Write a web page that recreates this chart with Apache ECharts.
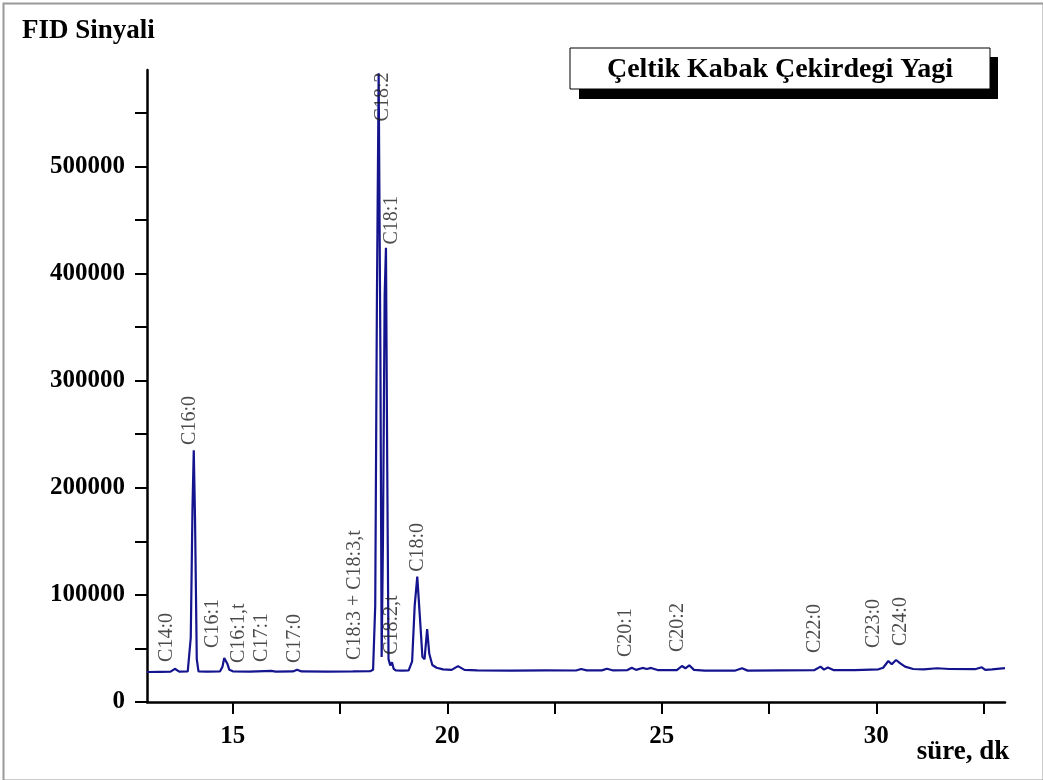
<!DOCTYPE html>
<html>
<head>
<meta charset="utf-8">
<script src="https://cdn.jsdelivr.net/npm/echarts@6/dist/echarts.min.js"></script>
<style>
html,body{margin:0;padding:0;background:#fff;}
#chart{width:1043px;height:780px;}
</style>
</head>
<body>
<div id="chart"></div>
<script>
// retention time (min) and FID signal of the chromatogram trace
const time = [13.00, 13.30, 13.55, 13.65, 13.75, 13.95, 14.02, 14.06, 14.09, 14.12, 14.16, 14.20, 14.40, 14.70, 14.76, 14.80, 14.83, 14.87, 14.92, 15.00, 15.40, 15.90, 16.00, 16.40, 16.50, 16.60, 17.20, 17.80, 18.20, 18.27, 18.32, 18.36, 18.40, 18.44, 18.47, 18.50, 18.54, 18.57, 18.60, 18.63, 18.67, 18.71, 18.75, 18.80, 18.95, 19.10, 19.18, 19.24, 19.30, 19.36, 19.42, 19.47, 19.53, 19.58, 19.65, 19.75, 19.90, 20.10, 20.25, 20.40, 20.70, 21.50, 22.30, 23.00, 23.12, 23.25, 23.60, 23.72, 23.85, 24.20, 24.30, 24.40, 24.55, 24.65, 24.75, 24.90, 25.35, 25.47, 25.55, 25.64, 25.75, 26.00, 26.70, 26.87, 27.00, 27.80, 28.55, 28.70, 28.78, 28.87, 29.00, 29.50, 30.05, 30.16, 30.28, 30.36, 30.46, 30.56, 30.67, 30.86, 31.10, 31.42, 31.70, 32.30, 32.46, 32.54, 32.70, 33.00];
const signal = [28000, 28200, 28300, 31000, 28400, 28500, 60000, 180000, 235000, 170000, 40000, 28500, 28300, 28500, 33000, 41000, 42500, 36000, 30000, 28600, 28400, 29000, 28400, 28500, 30200, 28500, 28400, 28500, 28700, 30000, 90000, 380000, 587000, 330000, 42000, 150000, 380000, 424000, 220000, 40000, 34000, 37000, 31000, 29500, 29200, 29500, 38000, 90000, 117000, 80000, 42000, 40000, 68000, 45000, 34500, 32000, 30500, 30000, 33500, 30000, 29500, 29300, 29500, 29400, 30800, 29500, 29500, 31000, 29600, 29800, 32000, 30000, 31800, 30800, 31800, 29800, 29800, 33600, 31500, 34300, 30000, 29200, 29200, 31500, 29300, 29500, 29700, 33000, 30200, 32200, 29800, 29800, 30500, 32000, 38300, 35200, 39200, 36000, 33000, 30800, 30500, 31500, 30800, 30600, 32400, 30000, 30500, 31700];

// peak annotations: name, time of label, signal level at label base
const peakNames = ['C14:0', 'C16:0', 'C16:1', 'C16:1,t', 'C17:1', 'C17:0', 'C18:3 + C18:3,t', 'C18:2', 'C18:1', 'C18:2,t', 'C18:0', 'C20:1', 'C20:2', 'C22:0', 'C23:0', 'C24:0'];
const peakTime = [13.47, 14.0, 14.54, 15.15, 15.68, 16.45, 17.85, 18.5, 18.71, 18.71, 19.30, 24.15, 25.38, 28.57, 29.93, 30.56];
const peakBase = [37400, 240000, 50500, 36400, 37400, 36400, 39300, 542000, 427000, 44000, 121500, 42000, 46700, 45800, 50500, 52300];

const xTicks = [15, 17.5, 20, 22.5, 25, 27.5, 30, 32.5];
const xLabels = [15, 20, 25, 30];
const yTicks = [0, 50000, 100000, 150000, 200000, 250000, 300000, 350000, 400000, 450000, 500000, 550000];
const yLabels = [0, 100000, 200000, 300000, 400000, 500000];

const chart = echarts.init(document.getElementById('chart'), null, {renderer: 'canvas'});
const lineData = time.map((t, i) => [t, signal[i]]);
const labelData = peakNames.map((n, i) => ({name: n, value: [peakTime[i], peakBase[i]]}));

chart.setOption({
  backgroundColor: '#ffffff',
  animation: false,
  grid: {left: 147, right: 38, top: 70, bottom: 78, containLabel: false},
  xAxis: {
    type: 'value', min: 13, max: 33,
    axisLine: {show: true, onZero: false, lineStyle: {color: '#000', width: 2.5}},
    axisTick: {show: true, length: 12, lineStyle: {color: '#000', width: 2}, customValues: xTicks},
    axisLabel: {show: true, customValues: xLabels, margin: 22, color: '#000',
      fontFamily: 'Liberation Serif', fontWeight: 'bold', fontSize: 25},
    splitLine: {show: false}
  },
  yAxis: {
    type: 'value', min: 0, max: 590000,
    axisLine: {show: true, onZero: false, lineStyle: {color: '#000', width: 2.5}},
    axisTick: {show: true, length: 12, lineStyle: {color: '#000', width: 2}, customValues: yTicks},
    axisLabel: {show: true, customValues: yLabels, margin: 22, color: '#000',
      fontFamily: 'Liberation Serif', fontWeight: 'bold', fontSize: 25,
      formatter: v => String(v)},
    splitLine: {show: false}
  },
  series: [
    {
      type: 'line', data: lineData, showSymbol: false, smooth: false,
      lineStyle: {color: '#14148f', width: 2.2}, silent: true, z: 3
    },
    {
      type: 'scatter', data: labelData, symbolSize: 1, silent: true,
      itemStyle: {color: 'rgba(0,0,0,0)'}, z: 5,
      label: {show: true, formatter: '{b}', position: 'inside', rotate: 90,
        align: 'left', verticalAlign: 'middle', color: '#1e1e1e',
        fontFamily: 'Liberation Serif', fontSize: 20}
    }
  ],
  graphic: [
    {type: 'rect', left: 1, top: 1, shape: {x: 0, y: 0, width: 1040, height: 777},
      style: {fill: 'none', stroke: '#999999', lineWidth: 2}, silent: true, z: 0},
    {type: 'text', left: 22, top: 18, style: {text: 'FID Sinyali', font: 'bold 27px "Liberation Serif"', fill: '#000'}, z: 10},
    {type: 'rect', shape: {x: 579, y: 57, width: 419, height: 42}, style: {fill: '#000'}, z: 10},
    {type: 'rect', shape: {x: 570, y: 48, width: 420, height: 41}, style: {fill: '#fff', stroke: '#000', lineWidth: 1}, z: 11},
    {type: 'text', x: 780, y: 70, style: {text: 'Çeltik Kabak Çekirdegi Yagi', font: 'bold 28px "Liberation Serif"', fill: '#000', align: 'center', verticalAlign: 'middle'}, z: 12},
    {type: 'text', x: 963, y: 752, style: {text: 'süre, dk', font: 'bold 27px "Liberation Serif"', fill: '#000', align: 'center', verticalAlign: 'middle'}, z: 10}
  ]
});
</script>
</body>
</html>
